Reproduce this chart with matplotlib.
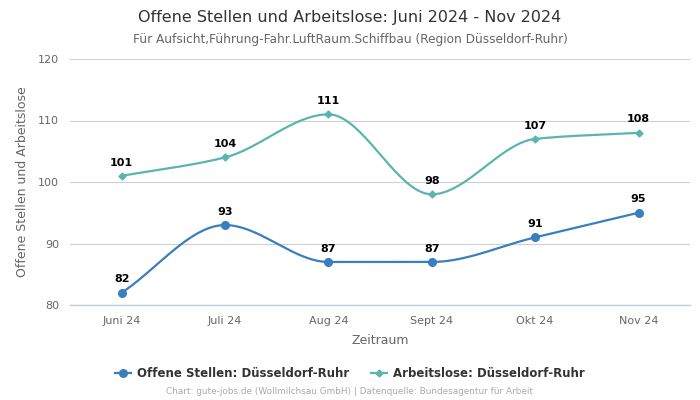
import numpy as np
import matplotlib
matplotlib.use('Agg')
import matplotlib.pyplot as plt

plt.rcParams['font.family'] = ['DejaVu Sans']

months = ['Juni 24', 'Juli 24', 'Aug 24', 'Sept 24', 'Okt 24', 'Nov 24']
offene = [82, 93, 87, 87, 91, 95]
arbeitslose = [101, 104, 111, 98, 107, 108]

blue = '#3a7fbd'
teal = '#5bb5ae'


def pchip(x, y, n=40):
    # monotone cubic for the smooth line
    x = np.asarray(x, float); y = np.asarray(y, float)
    h = np.diff(x); d = np.diff(y) / h
    m = np.zeros_like(y)
    for k in range(1, len(y) - 1):
        if d[k - 1] * d[k] > 0:
            w1 = 2 * h[k] + h[k - 1]; w2 = h[k] + 2 * h[k - 1]
            m[k] = (w1 + w2) / (w1 / d[k - 1] + w2 / d[k])
    m[0] = d[0]; m[-1] = d[-1]
    xs, ys = [], []
    for k in range(len(h)):
        t = np.linspace(0, 1, n)
        h00 = 2*t**3 - 3*t**2 + 1; h10 = t**3 - 2*t**2 + t
        h01 = -2*t**3 + 3*t**2; h11 = t**3 - t**2
        xs.append(x[k] + t * h[k])
        ys.append(h00*y[k] + h10*h[k]*m[k] + h01*y[k+1] + h11*h[k]*m[k+1])
    return np.concatenate(xs), np.concatenate(ys)


fig = plt.figure(figsize=(7, 4), dpi=100)
ax = fig.add_axes([0.1, 0.2375, 0.886, 0.615])
x = np.arange(len(months))

for vals, col, mk, ms, lab in [(offene, blue, 'o', 5.5, 'Offene Stellen: Düsseldorf-Ruhr'),
                               (arbeitslose, teal, 'D', 3.5, 'Arbeitslose: Düsseldorf-Ruhr')]:
    sx, sy = pchip(x, vals)
    ax.plot(sx, sy, color=col, lw=1.6, zorder=3)
    ax.plot(x, vals, marker=mk, ms=ms, color=col, lw=1.6, ls='none', zorder=4)
    ax.plot([], [], marker=mk, ms=ms, color=col, lw=1.6, label=lab)
    for xi, v in zip(x, vals):
        ax.annotate(str(v), (xi, v), xytext=(0, 6), textcoords='offset points',
                    ha='center', va='bottom', fontsize=8, fontweight='bold', color='black')

ax.set_xlim(-0.5, 5.5)
ax.set_ylim(80, 120)
ax.set_yticks([80, 90, 100, 110, 120])
ax.set_xticks(x)
ax.set_xticklabels(months)
ax.tick_params(axis='both', length=0, labelsize=8, labelcolor='#666666', pad=8)
ax.grid(axis='y', color='#d0d0d0', lw=0.8)
ax.set_axisbelow(True)
for s in ax.spines.values():
    s.set_visible(False)
ax.axhline(80, color='#c3ccd8', lw=1, zorder=1, clip_on=False)

ax.set_xlabel('Zeitraum', fontsize=9, color='#666666', labelpad=6)
ax.set_ylabel('Offene Stellen und Arbeitslose', fontsize=9, color='#666666', labelpad=6)

fig.text(0.5, 0.957, 'Offene Stellen und Arbeitslose: Juni 2024 - Nov 2024',
         ha='center', va='center', fontsize=11.5, color='#333333')
fig.text(0.5, 0.902, 'Für Aufsicht,Führung-Fahr.LuftRaum.Schiffbau (Region Düsseldorf-Ruhr)',
         ha='center', va='center', fontsize=8.7, color='#666666')

leg = fig.legend(loc='center', bbox_to_anchor=(0.5, 0.067), ncol=2, frameon=False,
                 prop={'size': 8.5, 'weight': 'bold'}, handlelength=1.4, columnspacing=1.8,
                 handletextpad=0.5)
for t in leg.get_texts():
    t.set_color('#333333')

fig.text(0.5, 0.02, 'Chart: gute-jobs.de (Wollmilchsau GmbH) | Datenquelle: Bundesagentur für Arbeit',
         ha='center', va='center', fontsize=6.4, color='#aaaaaa')

fig.savefig('out.png', dpi=100)
